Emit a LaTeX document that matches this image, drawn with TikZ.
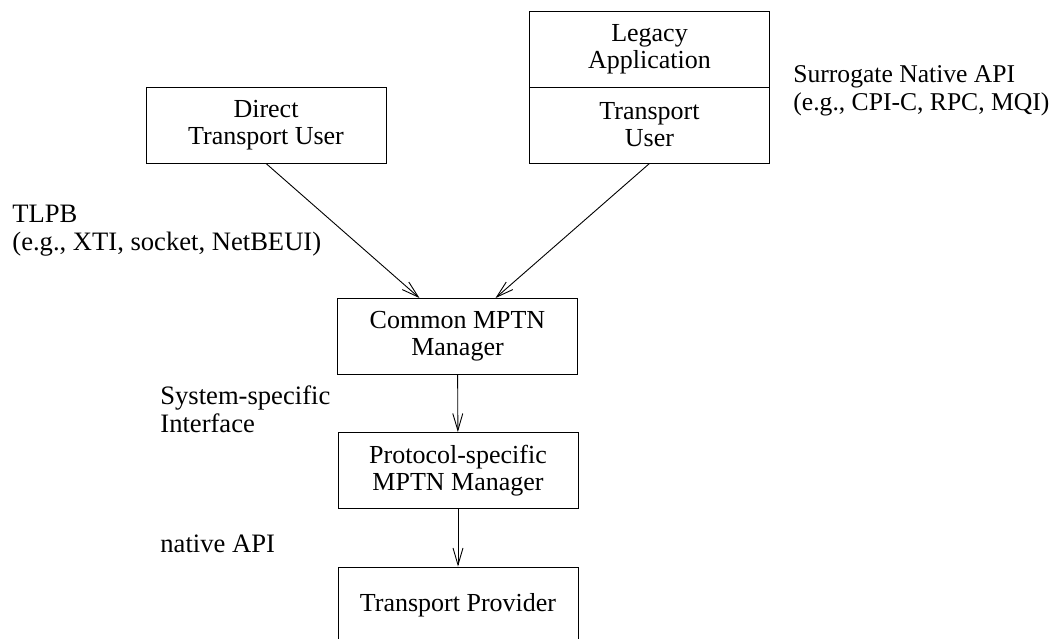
\documentclass[tikz,border=0pt]{standalone}
\usepackage{fontspec}
\setmainfont{Liberation Serif}
\usetikzlibrary{arrows.meta}

\begin{document}
\begin{tikzpicture}[x=0.5pt,y=-0.5pt,
  box/.style={draw,line width=0.45pt,minimum width=120pt,minimum height=38pt,
    align=center,inner sep=0pt,font=\fontsize{13}{13.5}\selectfont},
  lbl/.style={anchor=base west,align=left,inner sep=0pt,
    font=\fontsize{13.3}{14}\selectfont},
  link/.style={line width=0.45pt,-{Straight Barb[length=8.5pt,width=5pt]}}]
  \useasboundingbox (0,0) rectangle (1049,638);
  \node[box] (dtu) at (266,125) {Direct\\Transport User};
  \node[box] (app) at (649.5,49) {Legacy\\Application};
  \node[box] (tuser) at (649.5,125) {Transport\\User};
  \node[box] (common) at (457.5,336.5) {Common MPTN\\Manager};
  \node[box] (proto) at (458,470.5) {Protocol-specific\\MPTN Manager};
  \node[box] (prov) at (458,605) {Transport Provider};
  % interface labels (base = last line)
  \node[lbl] (tlpb) at (12,250) {TLPB\\(e.g., XTI, socket, NetBEUI)};
  \node[lbl,font=\fontsize{12.8}{14}\selectfont] (surr) at (793,110)
    {Surrogate Native API\\(e.g., CPI-C, RPC, MQI)};
  \node[lbl] (sysif) at (160,432) {System-specific\\Interface};
  \node[lbl] (napi) at (160,552) {native API};
  \draw[link] (dtu.south) -- ([xshift=-19pt]common.north);
  \draw[link] (tuser.south) -- ([xshift=19pt]common.north);
  \draw[link] (common) -- (proto);
  \draw[link] (proto) -- (prov);
\end{tikzpicture}
\end{document}
